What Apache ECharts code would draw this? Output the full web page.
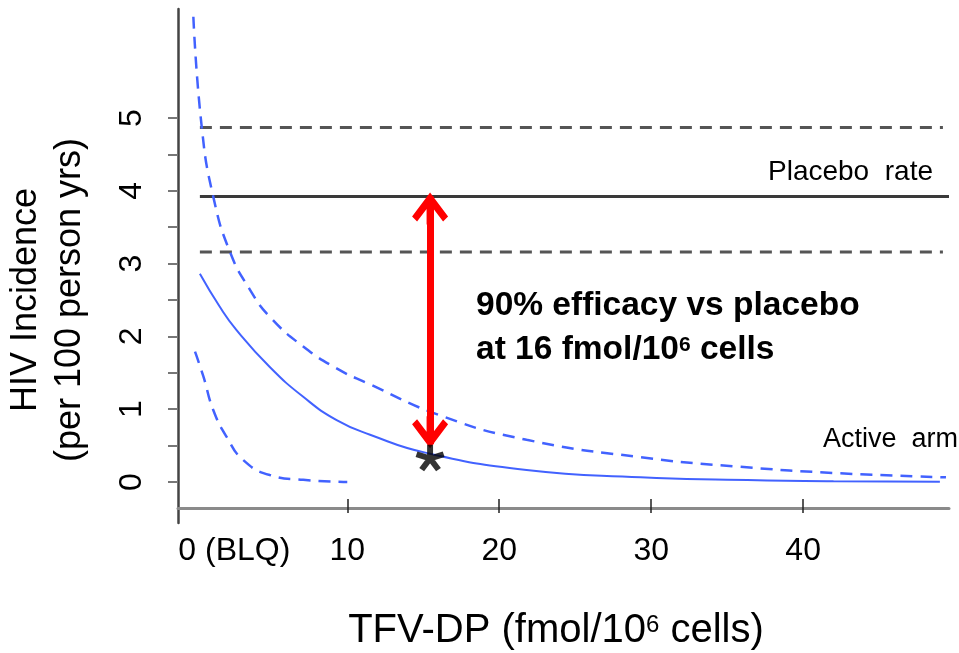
<!DOCTYPE html>
<html><head><meta charset="utf-8">
<script src="https://cdn.jsdelivr.net/npm/echarts@6/dist/echarts.min.js"></script>
<style>html,body{margin:0;padding:0;background:#fff}#c{width:959px;height:653px}</style>
</head><body><div id="c"></div>
<script>
// ---- data ----
const xTickValues = [0, 10, 20, 30, 40];
const xTickLabels = ['0 (BLQ)', '10', '20', '30', '40'];
const yTickValues = [0, 1, 2, 3, 4, 5];
const yMinorTicks = [0, 0.5, 1, 1.5, 2, 2.5, 3, 3.5, 4, 4.5, 5];

const placeboRate = 3.92;
const placeboLow = 3.16;
const placeboHigh = 4.87;
const placeboX = [0.3, 49.6];
const placeboCIX = [0.3, 49.2];

const activeX = [0.3, 1.6, 2.7, 4.9, 7.1, 9.3, 11.5, 15.2, 21.8, 29.3, 35, 42, 49];
const activeY = [2.86, 2.41, 2.09, 1.58, 1.17, 0.85, 0.65, 0.40, 0.165, 0.064, 0.03, 0.012, 0.005];

const upperX = [-0.13, 0.42, 1.18, 2.3, 3.6, 4.9, 7.1, 9.3, 11.3, 16.3, 21.8, 29.3, 35.8, 42.4, 49.4];
const upperY = [6.39, 4.88, 3.92, 3.15, 2.64, 2.27, 1.86, 1.56, 1.36, 0.90, 0.58, 0.34, 0.21, 0.12, 0.065];

const lowerX = [-0.02, 0.53, 1.18, 2.06, 3.16, 4.9, 7.1, 10.0];
const lowerY = [1.79, 1.45, 0.99, 0.62, 0.30, 0.096, 0.03, 0.0];

const efficacyX = 15.45;
const efficacyY = 0.33;
const arrowBottomY = 0.52;

// ---- helpers ----
const zip = (xs, ys) => xs.map((x, i) => [x, ys[i]]);
const FONT = 'Liberation Sans, Arial, sans-serif';
const BLUE = '#4262ff';

function asteriskPath() {
  const cx = 15, cy = 15, L = 13.5, hw = 2.8;
  let p = '';
  for (let k = 0; k < 5; k++) {
    const a = (-90 + 72 * k) * Math.PI / 180;
    const dx = Math.cos(a), dy = Math.sin(a), px = -dy, py = dx;
    const pts = [
      [cx + px * hw, cy + py * hw],
      [cx + dx * L + px * hw, cy + dy * L + py * hw],
      [cx + dx * L - px * hw, cy + dy * L - py * hw],
      [cx - px * hw, cy - py * hw]
    ];
    p += 'M' + pts.map(q => q[0].toFixed(2) + ',' + q[1].toFixed(2)).join('L') + 'Z';
  }
  return 'path://' + p;
}
const chevron = 'path://M18,0L36,24L31,29L21.5,16.5L21.5,32L14.5,32L14.5,16.5L5,29L0,24Z';

const chart = echarts.init(document.getElementById('c'), null, {renderer: 'canvas'});
const option = {
  animation: false,
  backgroundColor: '#fff',
  grid: {left: 178, right: 10, top: 9, bottom: 130, containLabel: false},
  xAxis: [{
    type: 'value', min: -1.14, max: 49.6, offset: -15, position: 'bottom',
    axisLine: {show: true, onZero: false, lineStyle: {color: '#8a8a8a', width: 3}},
    axisTick: {show: true, customValues: xTickValues.filter(v => v > 0), length: 5, lineStyle: {color: '#222', width: 1.5}},
    axisLabel: {
      customValues: xTickValues, margin: 27, fontSize: 32, color: '#000', fontFamily: FONT,
      formatter: function (v) {
        const i = xTickValues.indexOf(v);
        const t = i >= 0 ? xTickLabels[i] : '';
        return v === 0 ? '{z|' + t + '}' : t;
      },
      rich: {z: {fontSize: 32, color: '#000', fontFamily: FONT, padding: [0, 0, 0, 78]}}
    },
    splitLine: {show: false}
  }, {
    type: 'value', min: -1.14, max: 49.6, offset: -15, position: 'bottom',
    axisLine: {show: false, onZero: false},
    axisTick: {show: true, inside: true, customValues: xTickValues.filter(v => v > 0), length: 9, lineStyle: {color: '#222', width: 1.5}},
    axisLabel: {show: false},
    splitLine: {show: false}
  }],
  yAxis: {
    type: 'value', min: -0.563, max: 6.497,
    axisLine: {show: true, onZero: false, lineStyle: {color: '#444', width: 2.5}},
    axisTick: {show: true, customValues: yMinorTicks, length: 10, lineStyle: {color: '#777', width: 2}},
    axisLabel: {customValues: yTickValues, rotate: 90, margin: 30, fontSize: 32, color: '#000', fontFamily: FONT},
    splitLine: {show: false}
  },
  series: [
    {type: 'line', name: 'Placebo upper', data: placeboCIX.map(x => [x, placeboHigh]), symbol: 'none', silent: true,
      lineStyle: {color: '#555', width: 3, type: [12, 8]}},
    {type: 'line', name: 'Placebo rate', data: placeboX.map(x => [x, placeboRate]), symbol: 'none', silent: true,
      lineStyle: {color: '#3a3a3a', width: 3},
      markLine: {
        silent: true, symbol: [chevron, chevron], symbolSize: [36, 32], symbolOffset: [[0, 12], [0, 12]],
        label: {show: false},
        lineStyle: {color: '#ff0000', width: 7, type: 'solid'},
        emphasis: {disabled: true},
        data: [[{coord: [efficacyX, placeboRate]}, {coord: [efficacyX, arrowBottomY]}]]
      }},
    {type: 'line', name: 'Placebo lower', data: placeboCIX.map(x => [x, placeboLow]), symbol: 'none', silent: true,
      lineStyle: {color: '#555', width: 3, type: [12, 8]}},
    {type: 'line', name: 'Active upper', data: zip(upperX, upperY), symbol: 'none', smooth: 0.5, silent: true,
      lineStyle: {color: BLUE, width: 2.5, type: [12, 8]}},
    {type: 'line', name: 'Active arm', data: zip(activeX, activeY), symbol: 'none', smooth: 0.5, silent: true,
      lineStyle: {color: BLUE, width: 2}},
    {type: 'line', name: 'Active lower', data: zip(lowerX, lowerY), symbol: 'none', smooth: 0.5, silent: true,
      lineStyle: {color: BLUE, width: 2.5, type: [12, 8]}},
    {type: 'scatter', name: 'Efficacy point', data: [[efficacyX, efficacyY]], symbol: asteriskPath(), symbolSize: [29, 28],
      symbolKeepAspect: true, silent: true, itemStyle: {color: '#000'}, z: 5}
  ],
  graphic: [
    {type: 'text', x: 48, y: 300, rotation: Math.PI / 2,
      style: {text: 'HIV Incidence\n(per 100 person yrs)', align: 'center', verticalAlign: 'middle',
        fontSize: 36, lineHeight: 44, fontFamily: FONT, fill: '#000'}},
    {type: 'text', x: 556, y: 631,
      style: {text: '{a|TFV-DP (fmol/10}{s|6}{a| cells)}', align: 'center', verticalAlign: 'middle',
        rich: {a: {fontSize: 40, fontFamily: FONT, fill: '#000', lineHeight: 44},
               s: {fontSize: 24, fontFamily: FONT, fill: '#000', verticalAlign: 'top', padding: [4, 0, 0, 0]}}}},
    {type: 'text', x: 476, y: 284,
      style: {text: '{b|90% efficacy vs placebo}\n{b|at 16 fmol/10}{s|6}{b| cells}', align: 'left', verticalAlign: 'top',
        rich: {b: {fontSize: 33.5, fontWeight: 'bold', fontFamily: FONT, fill: '#000', lineHeight: 44},
               s: {fontSize: 21, fontWeight: 'bold', fontFamily: FONT, fill: '#000', verticalAlign: 'top', padding: [7, 0, 0, 0]}}}},
    {type: 'text', x: 933, y: 172,
      style: {text: 'Placebo  rate', align: 'right', verticalAlign: 'middle', fontSize: 28, fontFamily: FONT, fill: '#000'}},
    {type: 'text', x: 958, y: 440,
      style: {text: 'Active  arm', align: 'right', verticalAlign: 'middle', fontSize: 27, fontFamily: FONT, fill: '#000'}}
  ]
};
chart.setOption(option);
</script>
</body></html>
